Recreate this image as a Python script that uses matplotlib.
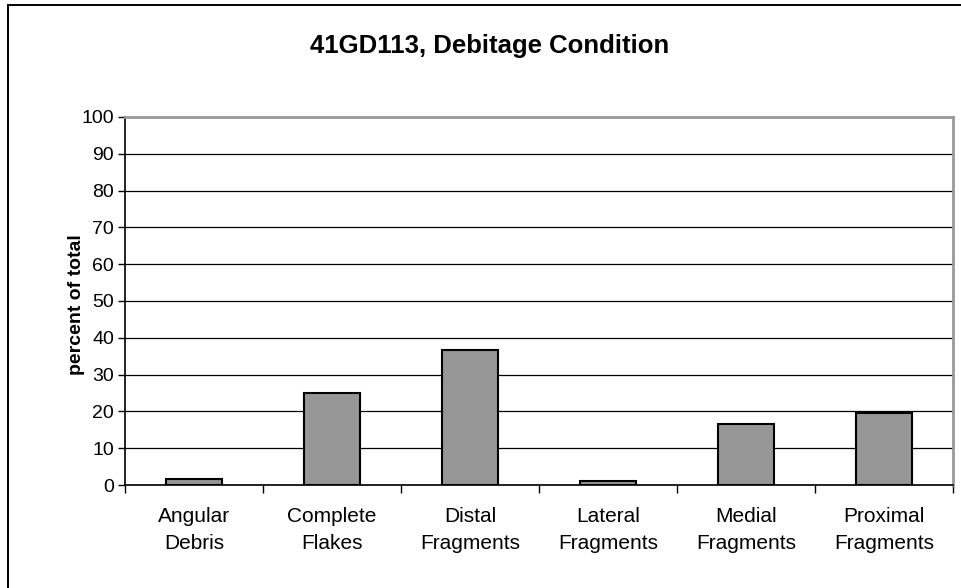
import numpy as np
import matplotlib
matplotlib.use('Agg')
from matplotlib import pyplot as plt
from matplotlib.patches import Rectangle

plt.rcParams['font.family'] = ['Liberation Sans', 'DejaVu Sans']

categories = ['Angular\nDebris', 'Complete\nFlakes', 'Distal\nFragments',
              'Lateral\nFragments', 'Medial\nFragments', 'Proximal\nFragments']
percent = [1.6, 24.9, 36.8, 1.1, 16.7, 19.5]
yticks = [0, 10, 20, 30, 40, 50, 60, 70, 80, 90, 100]

fig = plt.figure(figsize=(9.61, 5.88), dpi=100)
ax = fig.add_axes([125/961, 1 - 485/588, 828/961, 368/588])

# outer chart border (cropped at right and bottom in the reference)
fig.patches.append(Rectangle((7.5/961, -0.2), 1.2, 1.2 - 5/588, transform=fig.transFigure,
                             fill=False, edgecolor='black', linewidth=1.4))

x = np.arange(len(categories))
ax.bar(x, percent, width=0.4, color='#969696', edgecolor='black', linewidth=1.5, zorder=3)

ax.set_xlim(-0.5, len(categories) - 0.5)
ax.set_ylim(0, 100)
ax.set_yticks(yticks)
ax.set_yticklabels([str(t) for t in yticks], fontsize=14)
ax.yaxis.grid(True, color='black', linewidth=0.9, zorder=0)
ax.set_axisbelow(True)

# category labels centred, ticks on boundaries
ax.set_xticks(x)
ax.set_xticklabels(categories, fontsize=15, linespacing=1.55)
ax.tick_params(axis='x', length=0, pad=16)
ax.set_xticks(np.arange(-0.5, len(categories) + 0.5, 1), minor=True)
ax.tick_params(axis='x', which='minor', length=6, direction='out', width=1)
ax.tick_params(axis='y', length=5, direction='out', width=1, pad=3)

for side in ['top', 'right']:
    ax.spines[side].set_color('#999999')
    ax.spines[side].set_linewidth(2.0)
ax.spines['left'].set_linewidth(1.2)
ax.spines['bottom'].set_linewidth(1.2)

ax.set_ylabel('percent of total', fontsize=14, fontweight='bold')
ax.yaxis.set_label_coords(-0.048, 0.49)
fig.text(490/961, 1 - 46/588, '41GD113, Debitage Condition', ha='center', va='center',
         fontsize=18.5, fontweight='bold')

fig.savefig('out.png', dpi=100)
